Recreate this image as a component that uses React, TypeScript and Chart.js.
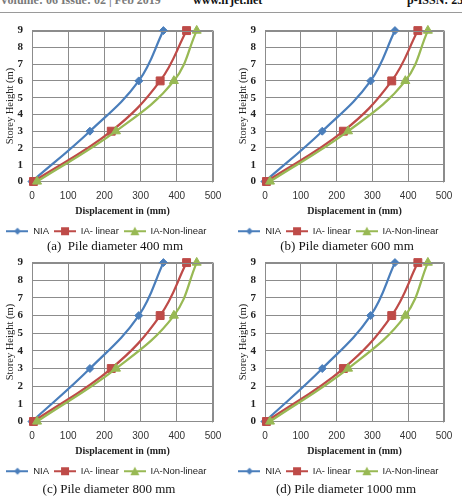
import React, { useEffect, useRef } from "react";
import { Chart, registerables } from "chart.js";

Chart.register(...registerables);

// ---- data ----
const STOREY_HEIGHTS = [0, 3, 6, 9];
const NIA_DISP = [0, 160, 295, 363];
const IA_LINEAR_DISP = [4, 219, 354, 427];
const IA_NONLINEAR_DISP = [14, 232, 392, 455];
const SERIES_NAMES = ["NIA", "IA- linear", "IA-Non-linear"];
const CAPTIONS = [
  "(a)  Pile diameter 400 mm",
  "(b) Pile diameter 600 mm",
  "(c) Pile diameter 800 mm",
  "(d) Pile diameter 1000 mm",
];
const X_TITLE = "Displacement in (mm)";
const Y_TITLE = "Storey Height (m)";
const HEADER_LEFT = "Volume: 06 Issue: 02 | Feb 2019";
const HEADER_MID = "www.irjet.net";
const HEADER_RIGHT = "p-ISSN: 2395-0072";

const COLORS = ["#4A7EBB", "#BE4B48", "#98B954"];
const STYLES = ["rectRot", "rect", "triangle"];
const RADII = [4, 5.6, 5.2];

const PANELS = [
  { left: 0, top: 15, width: 231, plotH: 157, capX: 115, capY: 246 },
  { left: 233, top: 15, width: 229, plotH: 157, capX: 347, capY: 246 },
  { left: 0, top: 247, width: 231, plotH: 165, capX: 109, capY: 489 },
  { left: 233, top: 247, width: 229, plotH: 165, capX: 346, capY: 489 },
];

function legendIcon(i: number): HTMLCanvasElement {
  const c = document.createElement("canvas");
  c.width = 22;
  c.height = 12;
  const ctx = c.getContext("2d")!;
  ctx.strokeStyle = COLORS[i];
  ctx.fillStyle = COLORS[i];
  ctx.lineWidth = 2;
  ctx.beginPath();
  ctx.moveTo(0, 6);
  ctx.lineTo(22, 6);
  ctx.stroke();
  ctx.beginPath();
  if (i === 0) {
    ctx.moveTo(11, 2.5);
    ctx.lineTo(14.5, 6);
    ctx.lineTo(11, 9.5);
    ctx.lineTo(7.5, 6);
  } else if (i === 1) {
    ctx.rect(7, 2, 8, 8);
  } else {
    ctx.moveTo(11, 1.5);
    ctx.lineTo(15.5, 10);
    ctx.lineTo(6.5, 10);
  }
  ctx.closePath();
  ctx.fill();
  return c;
}

function Panel({ cfg }: { cfg: typeof PANELS[number] }) {
  const ref = useRef<HTMLCanvasElement>(null);
  const H = 10 + cfg.plotH + 40 + 24;
  useEffect(() => {
    const seriesX = [NIA_DISP, IA_LINEAR_DISP, IA_NONLINEAR_DISP];
    const icons = [0, 1, 2].map(legendIcon);
    const chart = new Chart(ref.current!, {
      type: "line",
      data: {
        datasets: seriesX.map((xs, i) => ({
          label: SERIES_NAMES[i],
          data: xs.map((x, k) => ({ x, y: STOREY_HEIGHTS[k] })),
          borderColor: COLORS[i],
          backgroundColor: COLORS[i],
          pointBackgroundColor: COLORS[i],
          pointBorderColor: COLORS[i],
          pointBorderWidth: 1,
          pointStyle: STYLES[i] as any,
          pointRadius: RADII[i],
          borderWidth: 2.25,
          tension: 0.4,
          fill: false,
          clip: false as any,
          order: 3 - i,
        })),
      },
      options: {
        animation: false,
        responsive: false,
        maintainAspectRatio: false,
        layout: { padding: { top: 10, right: 18, left: 0, bottom: 0 } },
        plugins: {
          tooltip: { enabled: false },
          legend: {
            position: "bottom",
            labels: {
              usePointStyle: true,
              pointStyleWidth: 22,
              padding: 5,
              color: "#222",
              font: { family: "Liberation Sans", size: 9.5 },
              generateLabels: (ch: any) =>
                ch.data.datasets.map((d: any, i: number) => ({
                  text: d.label,
                  pointStyle: icons[i],
                  fillStyle: COLORS[i],
                  strokeStyle: COLORS[i],
                  lineWidth: 0,
                  hidden: false,
                  datasetIndex: i,
                  fontColor: "#222",
                })),
            },
          },
        },
        scales: {
          x: {
            type: "linear",
            min: 0,
            max: 500,
            afterFit: (s: any) => {
              s.height = 40;
            },
            ticks: {
              stepSize: 100,
              padding: 9,
              autoSkip: false,
              maxRotation: 0,
              color: "#333",
              font: { family: "Liberation Sans", size: 10 },
            },
            grid: { color: "#8c8c8c", lineWidth: 1, drawTicks: false },
            border: { display: true, color: "#8c8c8c" },
            title: {
              display: true,
              text: X_TITLE,
              color: "#222",
              padding: { top: 4, bottom: 4 },
              font: { family: "Liberation Serif", size: 10, weight: "bold" },
            },
          },
          y: {
            type: "linear",
            min: 0,
            max: 9,
            afterFit: (s: any) => {
              s.width = 32;
            },
            ticks: {
              stepSize: 1,
              padding: 9,
              autoSkip: false,
              color: "#222",
              font: { family: "Liberation Serif", size: 11, weight: "bold" },
            },
            grid: { color: "#8c8c8c", lineWidth: 1, drawTicks: false },
            border: { display: true, color: "#8c8c8c" },
            title: {
              display: true,
              text: Y_TITLE,
              color: "#222",
              padding: { top: 4, bottom: 4 },
              font: { family: "Liberation Serif", size: 10.5 },
            },
          },
        },
      },
      plugins: [
        {
          id: "frame",
          afterDraw: (c: any) => {
            const { left, right, top, bottom } = c.chartArea;
            const ctx = c.ctx;
            ctx.save();
            ctx.strokeStyle = "#8c8c8c";
            ctx.lineWidth = 1;
            ctx.beginPath();
            ctx.moveTo(Math.round(left) + 0.5, Math.round(top) + 0.5);
            ctx.lineTo(Math.round(right) - 0.5, Math.round(top) + 0.5);
            ctx.lineTo(Math.round(right) - 0.5, Math.round(bottom) + 0.5);
            ctx.stroke();
            ctx.restore();
          },
        } as any,
      ],
    } as any);
    return () => chart.destroy();
  }, []);
  return (
    <canvas
      ref={ref}
      width={cfg.width}
      height={H}
      style={{ position: "absolute", left: cfg.left, top: cfg.top, width: cfg.width, height: H }}
    />
  );
}

export default function App() {
  return (
    <div style={{ position: "absolute", left: 0, top: 0, width: 462, height: 498, background: "#fff", overflow: "hidden" }}>
      <div style={{ position: "absolute", left: 0, top: -7, whiteSpace: "nowrap", fontFamily: "Liberation Serif", fontWeight: "bold", fontSize: 12, color: "#7a7a7a" }}>
        {HEADER_LEFT}
      </div>
      <div style={{ position: "absolute", left: 193, top: -7, whiteSpace: "nowrap", fontFamily: "Liberation Serif", fontWeight: "bold", fontSize: 12, color: "#111" }}>
        {HEADER_MID}
      </div>
      <div style={{ position: "absolute", left: 407, top: -7, whiteSpace: "nowrap", fontFamily: "Liberation Serif", fontWeight: "bold", fontSize: 12, color: "#111" }}>
        {HEADER_RIGHT}
      </div>
      <div style={{ position: "absolute", left: 0, top: 12, width: 462, height: 1, background: "#9a9a9a" }} />
      {PANELS.map((p, i) => (
        <Panel key={i} cfg={p} />
      ))}
      {PANELS.map((p, i) => (
        <div
          key={"c" + i}
          style={{
            position: "absolute",
            left: p.capX - 100,
            width: 200,
            top: p.capY - 9,
            textAlign: "center",
            whiteSpace: "pre",
            fontFamily: "Liberation Serif",
            fontSize: 13,
            lineHeight: "18px",
            color: "#111",
          }}
        >
          {CAPTIONS[i]}
        </div>
      ))}
    </div>
  );
}
